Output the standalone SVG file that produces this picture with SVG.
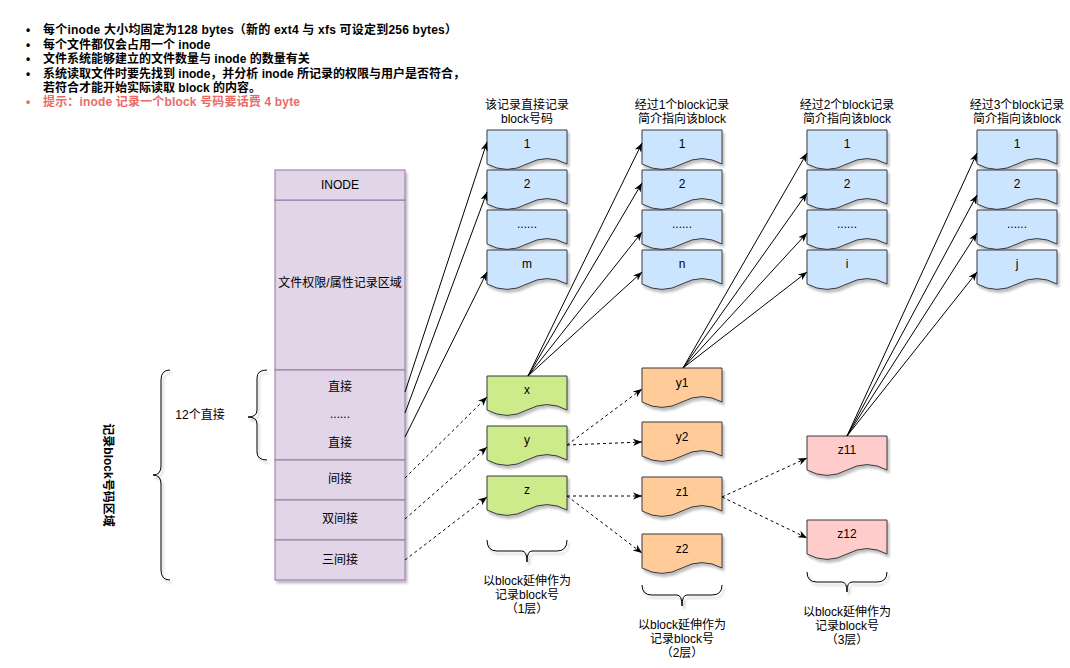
<svg xmlns="http://www.w3.org/2000/svg" xmlns:xlink="http://www.w3.org/1999/xlink" width="1070" height="668" viewBox="0 0 1070 668">
<style>
text{font-family:"Liberation Sans","Noto Sans CJK SC",sans-serif;font-size:12px;fill:#000}
.c{text-anchor:middle}
.b{font-weight:bold}
.red{fill:#ea6b66}
.inode{fill:#e1d5e7;stroke:#9673a6;stroke-width:1}
.blue{fill:#cce5ff;stroke:#36393d;stroke-width:1}
.green{fill:#cdeb8b;stroke:#36393d;stroke-width:1}
.orange{fill:#ffcc99;stroke:#36393d;stroke-width:1}
.pink{fill:#ffcccc;stroke:#36393d;stroke-width:1}
.brace{fill:none;stroke:#000;stroke-width:1}
.ln{fill:none;stroke:#000;stroke-width:1;marker-end:url(#ar)}
.dash{stroke-dasharray:3 3}
</style>
<defs>
<filter id="sh" x="-20%" y="-20%" width="150%" height="160%">
<feDropShadow dx="2" dy="3" stdDeviation="0.8" flood-color="#000" flood-opacity="0.25"/>
</filter>
<path id="doc" d="M0,0 H80 V34 Q60,23.2 40,34 Q20,44.8 0,34 Z"/>
<marker id="ar" viewBox="0 0 10 10" refX="10" refY="5" markerWidth="9" markerHeight="9" orient="auto" markerUnits="userSpaceOnUse">
<path d="M0,1 L10,5 L0,9 L3,5 Z" fill="#000"/>
</marker>
</defs>
<rect width="1070" height="668" fill="#fff"/>

<g id="notes">
<text x="26" y="34" class="b">•</text><text x="43" y="34" class="b" textLength="414">每个inode 大小均固定为128 bytes（新的 ext4 与 xfs 可设定到256 bytes）</text>
<text x="26" y="48.5" class="b">•</text><text x="43" y="48.5" class="b">每个文件都仅会占用一个 inode</text>
<text x="26" y="63" class="b">•</text><text x="43" y="63" class="b">文件系统能够建立的文件数量与 inode 的数量有关</text>
<text x="26" y="77.5" class="b">•</text><text x="43" y="77.5" class="b">系统读取文件时要先找到 inode，并分析 inode 所记录的权限与用户是否符合，</text>
<text x="43" y="91.5" class="b">若符合才能开始实际读取 block 的内容。</text>
<text x="26" y="105.5" class="b red">•</text><text x="43" y="105.5" class="b red" textLength="257">提示：inode 记录一个block 号码要话费 4 byte</text>
</g>

<g id="inode" filter="url(#sh)">
<rect x="275" y="200" width="130" height="170" class="inode"/>
<rect x="275" y="370" width="130" height="90" class="inode"/>
<rect x="275" y="460" width="130" height="40" class="inode"/>
<rect x="275" y="500" width="130" height="40" class="inode"/>
<rect x="275" y="540" width="130" height="40" class="inode"/>
<rect x="275" y="170" width="130" height="30" class="inode"/>
</g>
<g id="inode-text">
<text x="340" y="189" class="c">INODE</text>
<text x="340" y="287" class="c">文件权限/属性记录区域</text>
<text x="340" y="391" class="c">直接</text>
<text x="340" y="418" class="c">......</text>
<text x="340" y="447" class="c">直接</text>
<text x="340" y="483" class="c">间接</text>
<text x="340" y="523" class="c">双间接</text>
<text x="340" y="564" class="c">三间接</text>
</g>

<g id="left-braces" filter="url(#sh)">
<path class="brace" d="M170,370 Q161,370 161,380 V466 Q161,475 153,475 Q161,475 161,484 V570 Q161,580 170,580"/>
<path class="brace" d="M267,370 Q257,370 257,378 V410 Q257,417 248,417 Q257,417 257,424 V452 Q257,460 267,460"/>
</g>
<text x="200" y="419" class="c">12个直接</text>
<text x="0" y="0" class="c b" transform="translate(104,475) rotate(90)">记录block号码区域</text>

<g id="headers">
<text x="527" y="109" class="c">该记录直接记录</text>
<text x="527" y="122.5" class="c">block号码</text>
<text x="682" y="109" class="c">经过1个block记录</text>
<text x="682" y="122.5" class="c">简介指向该block</text>
<text x="847" y="109" class="c">经过2个block记录</text>
<text x="847" y="122.5" class="c">简介指向该block</text>
<text x="1017" y="109" class="c">经过3个block记录</text>
<text x="1017" y="122.5" class="c">简介指向该block</text>
</g>

<g id="col1">
<g filter="url(#sh)">
<use xlink:href="#doc" x="487" y="130" class="blue"/>
<use xlink:href="#doc" x="487" y="170" class="blue"/>
<use xlink:href="#doc" x="487" y="210" class="blue"/>
<use xlink:href="#doc" x="487" y="250" class="blue"/>
</g>
<text x="527" y="148" class="c">1</text>
<text x="527" y="188" class="c">2</text>
<text x="527" y="228" class="c">......</text>
<text x="527" y="268" class="c">m</text>
</g>
<g id="col2">
<g filter="url(#sh)">
<use xlink:href="#doc" x="642" y="130" class="blue"/>
<use xlink:href="#doc" x="642" y="170" class="blue"/>
<use xlink:href="#doc" x="642" y="210" class="blue"/>
<use xlink:href="#doc" x="642" y="250" class="blue"/>
</g>
<text x="682" y="148" class="c">1</text>
<text x="682" y="188" class="c">2</text>
<text x="682" y="228" class="c">......</text>
<text x="682" y="268" class="c">n</text>
</g>
<g id="col3">
<g filter="url(#sh)">
<use xlink:href="#doc" x="807" y="130" class="blue"/>
<use xlink:href="#doc" x="807" y="170" class="blue"/>
<use xlink:href="#doc" x="807" y="210" class="blue"/>
<use xlink:href="#doc" x="807" y="250" class="blue"/>
</g>
<text x="847" y="148" class="c">1</text>
<text x="847" y="188" class="c">2</text>
<text x="847" y="228" class="c">......</text>
<text x="847" y="268" class="c">i</text>
</g>
<g id="col4">
<g filter="url(#sh)">
<use xlink:href="#doc" x="977" y="130" class="blue"/>
<use xlink:href="#doc" x="977" y="170" class="blue"/>
<use xlink:href="#doc" x="977" y="210" class="blue"/>
<use xlink:href="#doc" x="977" y="250" class="blue"/>
</g>
<text x="1017" y="148" class="c">1</text>
<text x="1017" y="188" class="c">2</text>
<text x="1017" y="228" class="c">......</text>
<text x="1017" y="268" class="c">j</text>
</g>

<g id="node-x"><use xlink:href="#doc" x="487" y="376" class="green" filter="url(#sh)"/><text x="527" y="394" class="c">x</text></g>
<g id="node-y"><use xlink:href="#doc" x="487" y="426" class="green" filter="url(#sh)"/><text x="527" y="444" class="c">y</text></g>
<g id="node-z"><use xlink:href="#doc" x="487" y="476" class="green" filter="url(#sh)"/><text x="527" y="494" class="c">z</text></g>
<g id="node-y1"><use xlink:href="#doc" x="642" y="368" class="orange" filter="url(#sh)"/><text x="682" y="387" class="c">y1</text></g>
<g id="node-y2"><use xlink:href="#doc" x="642" y="422" class="orange" filter="url(#sh)"/><text x="682" y="441" class="c">y2</text></g>
<g id="node-z1"><use xlink:href="#doc" x="642" y="477" class="orange" filter="url(#sh)"/><text x="682" y="496" class="c">z1</text></g>
<g id="node-z2"><use xlink:href="#doc" x="642" y="534" class="orange" filter="url(#sh)"/><text x="682" y="553" class="c">z2</text></g>
<g id="node-z11"><use xlink:href="#doc" x="807" y="436" class="pink" filter="url(#sh)"/><text x="847" y="454" class="c">z11</text></g>
<g id="node-z12"><use xlink:href="#doc" x="807" y="520" class="pink" filter="url(#sh)"/><text x="847" y="538" class="c">z12</text></g>

<g id="bottom-braces">
<g filter="url(#sh)">
<path class="brace" d="M487,540 Q487,551 497,551 H522 Q527,551 527,562 Q527,551 532,551 H557 Q567,551 567,540"/>
<path class="brace" d="M642,585 Q642,595 652,595 H677 Q682,595 682,606 Q682,595 687,595 H712 Q722,595 722,585"/>
<path class="brace" d="M807,572 Q807,582 817,582 H842 Q847,582 847,592 Q847,582 852,582 H877 Q887,582 887,572"/>
</g>
<text x="527" y="585" class="c">以block延伸作为</text>
<text x="527" y="599" class="c">记录block号</text>
<text x="527" y="613" class="c">（1层）</text>
<text x="682" y="629" class="c">以block延伸作为</text>
<text x="682" y="643" class="c">记录block号</text>
<text x="682" y="657" class="c">（2层）</text>
<text x="847" y="616" class="c">以block延伸作为</text>
<text x="847" y="630" class="c">记录block号</text>
<text x="847" y="644" class="c">（3层）</text>
</g>

<g id="connectors">
<line class="ln" x1="405" y1="392" x2="487" y2="142"/>
<line class="ln" x1="405" y1="413" x2="487" y2="192"/>
<line class="ln" x1="405" y1="437" x2="487" y2="272"/>
<line class="ln" x1="528" y1="376" x2="642" y2="143"/>
<line class="ln" x1="528" y1="376" x2="642" y2="183"/>
<line class="ln" x1="528" y1="376" x2="642" y2="232"/>
<line class="ln" x1="528" y1="376" x2="642" y2="272"/>
<line class="ln" x1="683" y1="368" x2="807" y2="153"/>
<line class="ln" x1="683" y1="368" x2="807" y2="193"/>
<line class="ln" x1="683" y1="368" x2="807" y2="233"/>
<line class="ln" x1="683" y1="368" x2="807" y2="272"/>
<line class="ln" x1="847" y1="436" x2="977" y2="153"/>
<line class="ln" x1="847" y1="436" x2="977" y2="195"/>
<line class="ln" x1="847" y1="436" x2="977" y2="233"/>
<line class="ln" x1="847" y1="436" x2="977" y2="272"/>
<line class="ln dash" x1="405" y1="478" x2="487" y2="397"/>
<line class="ln dash" x1="405" y1="519" x2="487" y2="447"/>
<line class="ln dash" x1="405" y1="560" x2="487" y2="497"/>
<line class="ln dash" x1="567" y1="445" x2="642" y2="389"/>
<line class="ln dash" x1="567" y1="445" x2="642" y2="442"/>
<line class="ln dash" x1="567" y1="496" x2="642" y2="496"/>
<line class="ln dash" x1="567" y1="496" x2="642" y2="553"/>
<line class="ln dash" x1="722" y1="497" x2="807" y2="458"/>
<line class="ln dash" x1="722" y1="497" x2="807" y2="538"/>
</g>
</svg>
